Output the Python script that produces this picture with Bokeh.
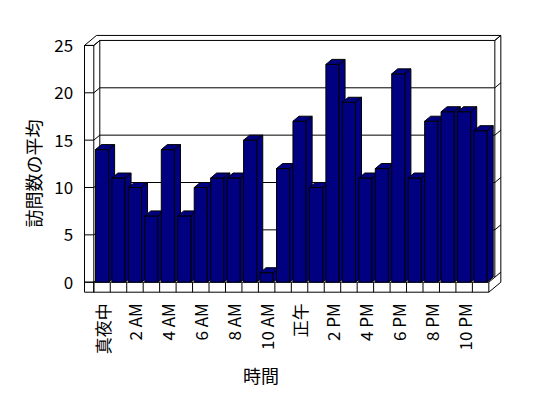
import math
from bokeh.plotting import figure
from bokeh.models import Range1d
from bokeh.core.properties import value
from bokeh.embed import file_html
from bokeh.resources import INLINE

# ---- data ----
hours = list(range(24))
visits = [14, 11, 10, 7, 14, 7, 10, 11, 11, 15, 1, 12,
          17, 10, 23, 19, 11, 12, 22, 11, 17, 18, 18, 16]
tick_labels = ["真夜中", "2 AM", "4 AM", "6 AM", "8 AM", "10 AM",
               "正午", "2 PM", "4 PM", "6 PM", "8 PM", "10 PM"]
y_ticks = [0, 5, 10, 15, 20, 25]
x_title = "時間"
y_title = "訪問数の平均"

# ---- layout (pixel scale of the 3D box) ----
W, H = 548, 398
PX = 16.46      # px per category slot
PY = 9.47       # px per value unit
X0 = 93.3       # px of slot 0 (front plane)
Y0 = 281.7      # px from top of value 0 (front plane)
ymax = 25
n = len(hours)
dx, dy = 6.0 / PX, 5.0 / PY          # depth offset
L = -9.3 / PX                        # left wall outer x
F = -10.0 / PY                       # floor bottom
g = 0.1                              # bar gap

p = figure(width=W, height=H, output_backend="svg", toolbar_location=None,
           x_range=Range1d(-X0 / PX, (W - X0) / PX),
           y_range=Range1d(-(H - Y0) / PY, Y0 / PY),
           min_border=0)
p.axis.visible = False
p.grid.visible = False
p.outline_line_color = None
p.background_fill_color = "white"
p.border_fill_color = "white"

# outer silhouette of the box
p.patch([L, L, L + 2 * dx, n + 2 * dx, n + 2 * dx, n],
        [F, ymax, ymax + 2 * dy, ymax + 2 * dy, F + 2 * dy, F],
        fill_color="white", line_color="black", line_width=1)

lx, ly = [], []
# left wall front face edges
lx.append([L, 0, 0]); ly.append([ymax, ymax, F])
lx.append([0, dx]); ly.append([ymax, ymax + dy])
# back wall front face
lx.append([dx, dx, n + dx, n + dx]); ly.append([dy, ymax + dy, ymax + dy, dy])
lx.append([n + dx, n + 2 * dx]); ly.append([ymax + dy, ymax + 2 * dy])
# gridlines + wall ticks
for t in y_ticks:
    if 0 < t < ymax:
        lx.append([dx, n + dx]); ly.append([t + dy, t + dy])
    lx.append([L, 0, dx]); ly.append([t, t, t + dy])
    lx.append([n + dx, n + 2 * dx]); ly.append([t + dy, t + 2 * dy])
# floor
lx.append([L, n]); ly.append([0, 0])
lx.append([n, n + dx]); ly.append([0, dy])
for i in range(n + 1):
    lx.append([i, i]); ly.append([F, 0])
p.multi_line(lx, ly, line_color="black", line_width=1)

# bars (front, top, side) drawn left to right
bx, by = [], []
for i, v in zip(hours, visits):
    x0, x1 = i + g, i + 1 - g
    bx.append([x0, x1, x1, x0]); by.append([0, 0, v, v])
    bx.append([x0, x1, x1 + dx, x0 + dx]); by.append([v, v, v + dy, v + dy])
    bx.append([x1, x1 + dx, x1 + dx, x1]); by.append([0, dy, v + dy, v])
p.patches(bx, by, fill_color="#000080", line_color="black", line_width=1)

font = value("Noto Sans CJK JP")
# y tick labels
p.text(x=[-20.6 / PX] * len(y_ticks), y=y_ticks, text=[str(t) for t in y_ticks],
       text_align="right", text_baseline="middle", text_font=font,
       text_font_size="17px", text_color="black")
# x tick labels
p.text(x=[2 * k + 0.5 for k in range(len(tick_labels))],
       y=[-21.0 / PY] * len(tick_labels), text=tick_labels,
       angle=math.pi / 2, text_align="right", text_baseline="middle",
       text_font=font, text_font_size="17px", text_color="black")
# titles
p.text(x=[(260.5 - X0) / PX], y=[(Y0 - 374) / PY], text=[x_title],
       text_align="center", text_baseline="middle", text_font=font,
       text_font_size="18px", text_color="black")
p.text(x=[(32 - X0) / PX], y=[(Y0 - 173) / PY], text=[y_title],
       angle=math.pi / 2, text_align="center", text_baseline="middle",
       text_font=font, text_font_size="18px", text_color="black")

open("out.html", "w").write(file_html(p, INLINE))
